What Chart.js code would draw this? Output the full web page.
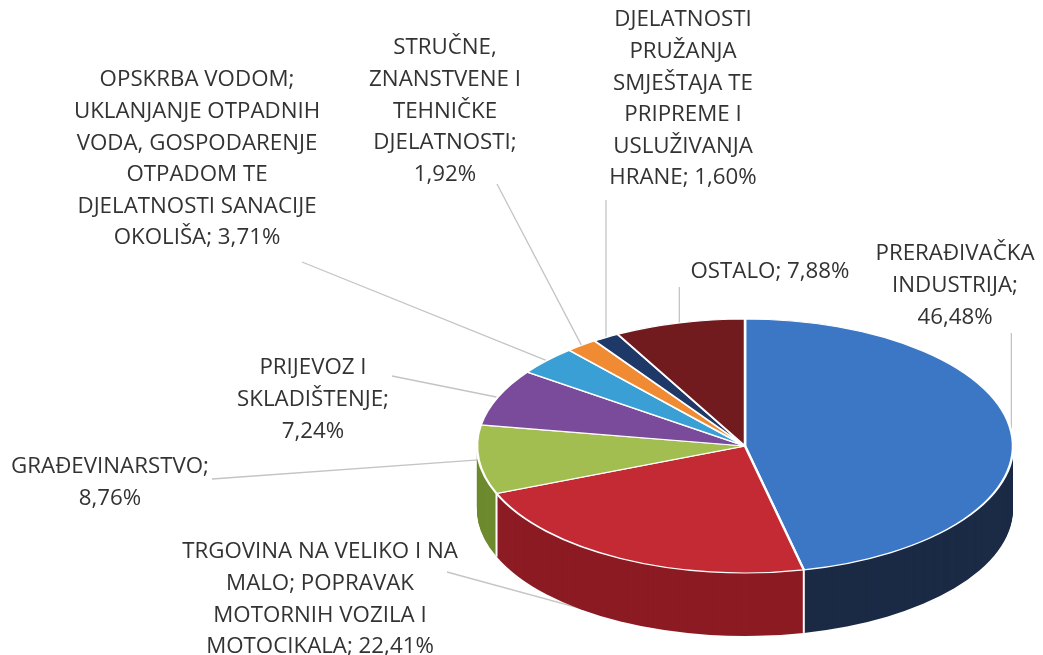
<!DOCTYPE html>
<html><head><meta charset="utf-8">
<script src="https://cdn.jsdelivr.net/npm/chart.js@4.4.1/dist/chart.umd.min.js"></script>
<style>html,body{margin:0;padding:0;background:#fff;overflow:hidden}#wrap{position:relative;width:1043px;height:655px}</style>
</head><body><div id="wrap"><canvas id="c" width="1043" height="655"></canvas></div>
<script>
// ---- data ----
const categories = [
  "PRERAĐIVAČKA INDUSTRIJA",
  "TRGOVINA NA VELIKO I NA MALO; POPRAVAK MOTORNIH VOZILA I MOTOCIKALA",
  "GRAĐEVINARSTVO",
  "PRIJEVOZ I SKLADIŠTENJE",
  "OPSKRBA VODOM; UKLANJANJE OTPADNIH VODA, GOSPODARENJE OTPADOM TE DJELATNOSTI SANACIJE OKOLIŠA",
  "STRUČNE, ZNANSTVENE I TEHNIČKE DJELATNOSTI",
  "DJELATNOSTI PRUŽANJA SMJEŠTAJA TE PRIPREME I USLUŽIVANJA HRANE",
  "OSTALO"
];
const shares = [46.48, 22.41, 8.76, 7.24, 3.71, 1.92, 1.60, 7.88];
// wrapped label text (category name lines; the value is appended to the last line)
const labelLines = [
  ["PRERAĐIVAČKA", "INDUSTRIJA;", ""],
  ["TRGOVINA NA VELIKO I NA", "MALO; POPRAVAK", "MOTORNIH VOZILA I", "MOTOCIKALA; "],
  ["GRAĐEVINARSTVO;", ""],
  ["PRIJEVOZ I", "SKLADIŠTENJE;", ""],
  ["OPSKRBA VODOM;", "UKLANJANJE OTPADNIH", "VODA, GOSPODARENJE", "OTPADOM TE", "DJELATNOSTI SANACIJE", "OKOLIŠA; "],
  ["STRUČNE,", "ZNANSTVENE I", "TEHNIČKE", "DJELATNOSTI;", ""],
  ["DJELATNOSTI", "PRUŽANJA", "SMJEŠTAJA TE", "PRIPREME I", "USLUŽIVANJA", "HRANE; "],
  ["OSTALO; "]
];
const topColors  = ["#3B77C5", "#C42A33", "#A2BE50", "#7B4B9B", "#3A9FD4", "#F18B33", "#1E3868", "#711B1F"];
const sideColors = ["#1B2A45", "#8C1B23", "#6E8A2E", "#53316C", "#276E96", "#B2601F", "#13264A", "#4A1014"];

// ---- layout (positions / styles) ----
const GEO = { cx: 745, cy: 446, rx: 268, ry: 127, depth: 63 };
const LINE_H = 31.6;
const labelLayout = [
  { x: 955, y: 254, vertical: true, ay: 333 },
  { x: 320, y: 552, ax: 447, ay: 572, dy: 61 },
  { x: 110, y: 467, ax: 212, ay: 479 },
  { x: 313, y: 368, ax: 392, ay: 376 },
  { x: 197, y: 80,  ax: 302, ay: 262 },
  { x: 445, y: 48,  ax: 497, ay: 184 },
  { x: 683, y: 20,  vertical: true, ay: 200 },
  { x: 770, y: 272, vertical: true, ay: 287 }
];
const FONT_FAMILY = "'Open Sans', 'DejaVu Sans', sans-serif";
const fmt = v => v.toFixed(2).replace('.', ',') + '%';

function ellXf(ctx, arc, dy) {
  const R = arc.outerRadius;
  ctx.translate(GEO.cx, GEO.cy + dy);
  ctx.scale(GEO.rx / R, GEO.ry / R);
  ctx.translate(-arc.x, -arc.y);
}
function rimPoint(arc) {
  const m = (arc.startAngle + arc.endAngle) / 2;
  return { x: GEO.cx + GEO.rx * Math.cos(m), y: GEO.cy + GEO.ry * Math.sin(m) };
}

let fontSize = 22;

const pie3d = {
  id: 'pie3d',
  beforeDatasetsDraw(chart) {
    const ctx = chart.ctx;
    const arcs = chart.getDatasetMeta(0).data;
    // leader lines (under the pie)
    ctx.save();
    ctx.strokeStyle = '#C4C4C4';
    ctx.lineWidth = 1.3;
    arcs.forEach((arc, i) => {
      const L = labelLayout[i];
      const p = rimPoint(arc);
      const ex = p.x, ey = p.y + (L.dy || 0);
      const sx = L.vertical ? ex : L.ax, sy = L.ay;
      ctx.beginPath(); ctx.moveTo(sx, sy); ctx.lineTo(ex, ey); ctx.stroke();
    });
    ctx.restore();
    // side walls
    for (let d = GEO.depth; d >= 1; d--) {
      ctx.save();
      ellXf(ctx, arcs[0], d);
      arcs.forEach((arc, i) => {
        ctx.beginPath();
        ctx.moveTo(arc.x, arc.y);
        ctx.arc(arc.x, arc.y, arc.outerRadius, arc.startAngle, arc.endAngle);
        ctx.closePath();
        ctx.fillStyle = sideColors[i];
        ctx.fill();
      });
      ctx.restore();
    }
    // white separators on visible front wall
    ctx.save();
    ctx.strokeStyle = '#ffffff';
    ctx.lineWidth = 2;
    arcs.forEach(arc => {
      const a = arc.startAngle;
      if (Math.sin(a) > 0.05) {
        const x = GEO.cx + GEO.rx * Math.cos(a), y = GEO.cy + GEO.ry * Math.sin(a);
        ctx.beginPath(); ctx.moveTo(x, y); ctx.lineTo(x, y + GEO.depth); ctx.stroke();
      }
    });
    ctx.restore();
    // top face transform
    ctx.save();
    ellXf(ctx, arcs[0], 0);
  },
  afterDatasetsDraw(chart) {
    chart.ctx.restore();
  }
};

const labelsPlugin = {
  id: 'pieLabels',
  afterDraw(chart) {
    const ctx = chart.ctx;
    ctx.save();
    ctx.fillStyle = '#333333';
    ctx.textAlign = 'center';
    ctx.textBaseline = 'middle';
    ctx.font = fontSize + 'px ' + FONT_FAMILY;
    labelLines.forEach((lines, i) => {
      const L = labelLayout[i];
      lines.forEach((t, j) => {
        const txt = j === lines.length - 1 ? t + fmt(shares[i]) : t;
        ctx.fillText(txt, L.x, L.y + j * LINE_H);
      });
    });
    ctx.restore();
  }
};

const canvas = document.getElementById('c');
const ctx = canvas.getContext('2d');
// size the font so that reference lines match their widths in the source
ctx.font = '100px ' + FONT_FAMILY;
const w1 = ctx.measureText('GRAĐEVINARSTVO;').width;
const w2 = ctx.measureText('TRGOVINA NA VELIKO I NA').width;
fontSize = Math.round(((200 / w1 + 273 / w2) / 2) * 100 * 10) / 10;

new Chart(ctx, {
  type: 'pie',
  data: {
    labels: categories,
    datasets: [{
      data: shares,
      backgroundColor: topColors,
      borderColor: '#ffffff',
      borderWidth: 2.5,
      hoverOffset: 0,
      clip: false
    }]
  },
  options: {
    responsive: false,
    animation: false,
    devicePixelRatio: 1,
    events: [],
    layout: { padding: { left: 477, right: 31, top: 60, bottom: 60 } },
    plugins: { legend: { display: false }, tooltip: { enabled: false } }
  },
  plugins: [pie3d, labelsPlugin]
});
</script></body></html>
